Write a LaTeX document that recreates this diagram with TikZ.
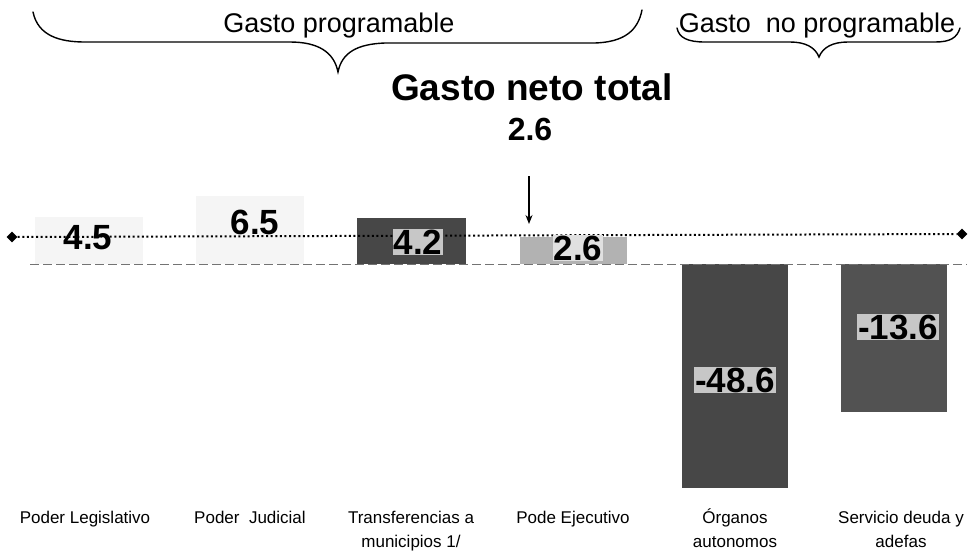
\documentclass[tikz,border=0pt]{standalone}
\usepackage{fontspec}
\setmainfont{Liberation Sans}
\usetikzlibrary{shapes.geometric,arrows.meta}
\tikzset{
  bar/.style={rectangle, draw=none, inner sep=0pt},
  lightbar/.style={bar, fill=black!4},
  darkbar/.style={bar, fill=black!72},
  midbar/.style={bar, fill=black!30},
  val/.style={font=\fontsize{35}{38}\selectfont\bfseries, inner sep=1pt},
  valdark/.style={val, fill=black!22},
  cat/.style={font=\fontsize{17}{24}\selectfont, align=center, anchor=north, inner sep=0pt},
  bracetxt/.style={font=\fontsize{27}{30}\selectfont, anchor=base, inner sep=0pt},
  bracepath/.style={line width=1.4pt, line cap=round},
  endmark/.style={diamond, fill=black, inner sep=0pt, minimum size=11pt},
}
\begin{document}
\begin{tikzpicture}[x=1pt,y=-1pt]
\useasboundingbox (0,0) rectangle (970,550);
% braces
\draw[bracepath] (33,12) .. controls (38,36) and (60,42) .. (85,42) -- (290,42)
  .. controls (318,42) and (334,52) .. (338,72)
  .. controls (342,52) and (358,44) .. (385,43) -- (595,43)
  .. controls (625,42) and (638,30) .. (642,10);
\draw[bracepath] (677,28) .. controls (679,38) and (688,42) .. (705,42) -- (790,42)
  .. controls (805,42) and (815,47) .. (819,57)
  .. controls (823,47) and (833,42) .. (848,42) -- (935,42)
  .. controls (950,42) and (957,38) .. (960,28);
\node[bracetxt] (gp) at (339,32) {Gasto programable};
\node[bracetxt] (gnp) at (817,32) {Gasto\ \ no programable};
% title
\node[anchor=base, inner sep=0pt, font=\fontsize{37}{40}\selectfont\bfseries] (tit) at (532,100) {Gasto neto total};
\node[anchor=base, inner sep=0pt, font=\fontsize{32}{36}\selectfont\bfseries] (tot) at (530,140) {2.6};
% bars
\node[lightbar, minimum width=108pt, minimum height=47pt] (b1) at (89,240.5) {};
\node[lightbar, minimum width=108pt, minimum height=68pt] (b2) at (250,230) {};
\node[darkbar, minimum width=109pt, minimum height=46pt] (b3) at (411.5,241) {};
\node[midbar, minimum width=107pt, minimum height=27pt] (b4) at (573.5,250.5) {};
\node[darkbar, minimum width=106pt, minimum height=224pt] (b5) at (735,376) {};
\node[darkbar, fill=black!68, minimum width=106pt, minimum height=148pt] (b6) at (894,338) {};
% axis
\coordinate (ax1) at (30,264);
\coordinate (ax2) at (967,264);
\draw[black!55, line width=1pt, dash pattern=on 9pt off 4pt] (ax1) -- (ax2);
% dotted reference line
\node[endmark] (dl) at (12,237) {};
\node[endmark] (dr) at (962,234) {};
\draw[line width=2pt, dash pattern=on 2pt off 2.6pt] (dl) -- (dr);
% arrow
\coordinate (arrS) at (529,176);
\coordinate (arrE) at (529,224);
\draw[line width=1.3pt, -{Stealth[length=9pt,width=7pt]}] (arrS) -- (arrE);
% values
\node[val] (v1) at (88,238) {4.5};
\node[val] (v2) at (255,222) {6.5};
\node[valdark] (v3) at (418,242) {4.2};
\node[val, fill=black!12] (v4) at (578,248) {2.6};
\node[valdark] (v5) at (735,380) {-48.6};
\node[valdark] (v6) at (898,327) {-13.6};
% categories
\node[cat] (c1) at (85,507) {\rule{0pt}{16pt}Poder Legislativo};
\node[cat] (c2) at (250,507) {\rule{0pt}{16pt}Poder\ \ Judicial};
\node[cat] (c3) at (411,507) {\rule{0pt}{16pt}Transferencias a\\municipios 1/};
\node[cat] (c4) at (573,507) {\rule{0pt}{16pt}Pode Ejecutivo};
\node[cat] (c5) at (735,507) {\rule{0pt}{16pt}Órganos\\autonomos};
\node[cat] (c6) at (901,507) {\rule{0pt}{16pt}Servicio deuda y\\adefas};
\end{tikzpicture}
\end{document}
